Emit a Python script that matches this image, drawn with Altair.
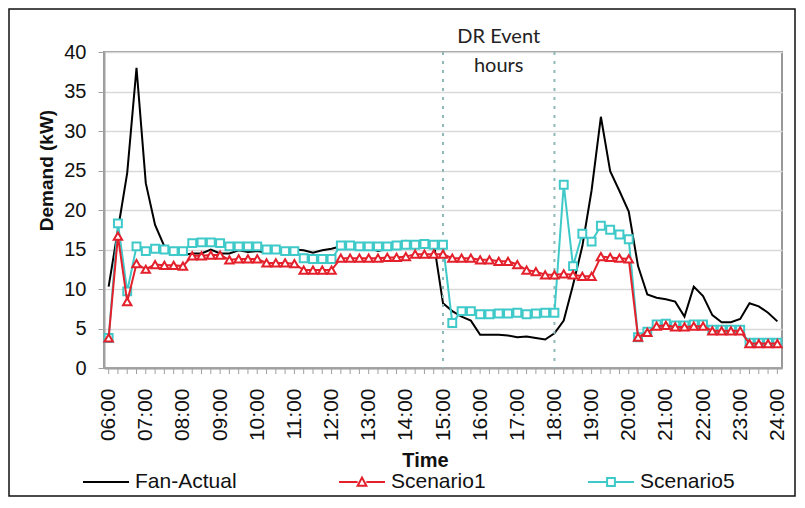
import altair as alt
import pandas as pd

# 15-minute time slots from 06:00 to 24:00 (hours)
hours = [6 + q / 4 for q in range(73)]
hour_labels = list(range(6, 25))

fan_actual = [
    10.3, 17.5, 24.7, 38.0,
    23.4, 18.1, 15.4, 14.3,
    14.3, 14.5, 14.5, 15.0,
    14.5, 14.5, 14.9, 14.7,
    14.8, 14.6, 14.8, 14.8,
    15.0, 14.9, 14.6, 14.9,
    15.1, 15.4, 15.3, 15.2,
    15.2, 14.8, 15.1, 15.2,
    16.1, 15.8, 15.7, 15.9,
    8.2, 7.2, 6.5, 6.0,
    4.2, 4.2, 4.2, 4.1,
    3.9, 4.0, 3.8, 3.6,
    4.4, 6.0, 10.5, 15.4,
    22.5, 31.8, 24.9, 22.4,
    19.8, 12.9, 9.3, 8.9,
    8.7, 8.4, 6.5, 10.3,
    9.1, 6.7, 5.8, 5.8,
    6.2, 8.2, 7.8, 7.0,
    5.9,
]

scenario1 = [
    3.8, 16.7, 8.4, 13.2,
    12.5, 13.1, 13.0, 13.0,
    12.9, 14.2, 14.2, 14.3,
    14.3, 13.7, 13.8, 13.8,
    13.8, 13.3, 13.3, 13.3,
    13.2, 12.4, 12.4, 12.4,
    12.4, 13.9, 13.9, 13.9,
    13.9, 13.9, 14.0, 14.0,
    14.1, 14.4, 14.4, 14.4,
    14.4, 13.9, 13.9, 13.9,
    13.7, 13.7, 13.5, 13.5,
    13.1, 12.4, 12.2, 11.8,
    11.8, 11.9, 11.8, 11.6,
    11.6, 14.1, 14.0, 13.9,
    13.8, 3.9, 4.5, 5.3,
    5.4, 5.2, 5.2, 5.3,
    5.3, 4.7, 4.7, 4.7,
    4.7, 3.1, 3.1, 3.1,
    3.1,
]

scenario5 = [
    3.8, 18.3, 9.7, 15.4,
    14.8, 15.1, 15.0, 14.8,
    14.8, 15.8, 15.9, 15.9,
    15.8, 15.4, 15.4, 15.4,
    15.4, 15.0, 15.0, 14.8,
    14.8, 13.9, 13.8, 13.8,
    13.8, 15.5, 15.5, 15.4,
    15.4, 15.4, 15.4, 15.5,
    15.6, 15.6, 15.7, 15.6,
    15.6, 5.7, 7.2, 7.2,
    6.8, 6.8, 6.9, 6.9,
    7.0, 6.8, 6.9, 7.0,
    7.0, 23.2, 12.9, 17.0,
    16.0, 18.0, 17.5, 16.9,
    16.3, 3.9, 4.6, 5.5,
    5.6, 5.4, 5.4, 5.5,
    5.5, 4.85, 4.85, 4.85,
    4.85, 3.2, 3.2, 3.2,
    3.2,
]

series_names = ["Fan-Actual", "Scenario1", "Scenario5"]
series_colors = ["#000000", "#e3202b", "#3fc9c9"]
dr_hours = [15, 18]
dr_center = [16.5]
y_ticks = list(range(0, 41, 5))

rows = []
for name, vals in zip(series_names, [fan_actual, scenario1, scenario5]):
    for t, v in zip(hours, vals):
        rows.append({"t": t, "series": name, "value": v})
df = pd.DataFrame(rows)

x_scale = alt.Scale(domain=[5.875, 24.125], nice=False, zero=False)
y_scale = alt.Scale(domain=[0, 40], nice=False)
color_scale = alt.Scale(domain=series_names, range=series_colors)

# legend glyphs: line, line+triangle, line+square
legend_shapes = [
    "M-1,0H1",
    "M-1,0H-0.19M0.19,0H1M-0.19,0.16L0,-0.19L0.19,0.16Z",
    "M-1,0H-0.17M0.17,0H1M-0.17,-0.17H0.17V0.17H-0.17Z",
]
shape_scale = alt.Scale(domain=series_names, range=legend_shapes)

FONT = "Arial"
GREY = "#a0a0a0"

label_expr = "(datum.value < 10 ? '0' : '') + datum.value + ':00'"

x_axis = alt.Axis(
    values=hour_labels, labelExpr=label_expr, labelAngle=270, labelFontSize=21,
    labelFont=FONT, labelColor="#111111", labelPadding=20, labelFlush=False,
    labelOverlap=False, labelBound=False, tickSize=0,
    domainColor=GREY, domainWidth=2, grid=False,
    title="Time", titleFontSize=20, titleFont=FONT, titleFontWeight="bold",
    titleColor="#111111", titleX=321, titleY=92, titleBaseline="middle",
    titleAlign="center",
)
y_axis = alt.Axis(
    values=y_ticks, labelFontSize=20, labelFont=FONT, labelColor="#111111",
    labelPadding=12, tickSize=6, tickColor=GREY, domainColor=GREY, domainWidth=2,
    grid=True, gridColor="#d9d9d9", gridWidth=1.5,
    title="Demand (kW)", titleFontSize=19, titleFont=FONT, titleFontWeight="bold",
    titleColor="#111111", titleX=-58, titleY=118, titleAngle=270,
    titleBaseline="middle", titleAlign="center",
)

legend = alt.Legend(
    title=None, orient="none", legendX=-22, legendY=406, direction="horizontal",
    columns=3, gridAlign="each", columnPadding=98, symbolSize=2116,
    symbolStrokeWidth=2, symbolFillColor="transparent", labelFontSize=21,
    labelFont=FONT, labelColor="#111111", labelOffset=5, labelLimit=300, padding=0,
)

base = alt.Chart(df)
X = alt.X("t:Q", scale=x_scale, axis=x_axis, title="Time")
Y = alt.Y("value:Q", scale=y_scale, axis=y_axis, title="Demand (kW)")

# small tick marks below the x axis at every 15-minute slot
slot_ticks = alt.Chart(pd.DataFrame({"t": hours})).mark_rule(
    color=GREY, strokeWidth=1
).encode(x=X, y=alt.value(317), y2=alt.value(322))

dr_rules = alt.Chart(pd.DataFrame({"t": dr_hours})).mark_rule(
    color="#8fb8b8", strokeWidth=2, strokeDash=[3, 6]
).encode(x=X)

# legend-only layer (no rows drawn; legend comes from the explicit scale domains)
legend_layer = base.transform_filter("false").mark_point(
    filled=False, opacity=1, strokeWidth=2
).encode(
    x=X, y=Y,
    color=alt.Color("series:N", scale=color_scale, legend=legend),
    shape=alt.Shape("series:N", scale=shape_scale, legend=legend),
)

black = base.transform_filter(alt.datum.series == "Fan-Actual").mark_line(
    strokeWidth=2, color=series_colors[0]
).encode(x=X, y=Y)
cyan_line = base.transform_filter(alt.datum.series == "Scenario5").mark_line(
    strokeWidth=2, color=series_colors[2]
).encode(x=X, y=Y)
cyan_pts = base.transform_filter(alt.datum.series == "Scenario5").mark_point(
    shape="square", size=62, filled=True, fill="white", stroke=series_colors[2],
    strokeWidth=2, opacity=1
).encode(x=X, y=Y)
red_line = base.transform_filter(alt.datum.series == "Scenario1").mark_line(
    strokeWidth=2, color=series_colors[1]
).encode(x=X, y=Y)
red_pts = base.transform_filter(alt.datum.series == "Scenario1").mark_point(
    shape="triangle-up", size=70, filled=True, fill="white", stroke=series_colors[1],
    strokeWidth=2, opacity=1
).encode(x=X, y=Y)

txt_df = pd.DataFrame({"t": dr_center})
dr_text1 = alt.Chart(txt_df).mark_text(
    text="DR Event", font="Lato", fontSize=20, color="#222222", baseline="alphabetic"
).encode(x=X, y=alt.value(-9))
dr_text2 = alt.Chart(txt_df).mark_text(
    text="hours", font="Lato", fontSize=20, color="#222222", baseline="alphabetic"
).encode(x=X, y=alt.value(20))

frame = alt.Chart(pd.DataFrame({"k": [0]})).mark_rect(
    fill="transparent", stroke="#111111", strokeWidth=1.5
).encode(x=alt.value(-95), x2=alt.value(691), y=alt.value(-43), y2=alt.value(444))

chart = alt.layer(
    black, slot_ticks, dr_rules, legend_layer, cyan_line, cyan_pts, red_line, red_pts,
    dr_text1, dr_text2, frame
).properties(
    width=678, height=316,
    autosize=alt.AutoSizeParams(type="none"),
    padding={"left": 96, "top": 44, "right": 14, "bottom": 130},
    background="white",
).configure_view(stroke="#999999", strokeWidth=2)

chart.save("out.html", embed_options={"renderer": "svg", "actions": False})
